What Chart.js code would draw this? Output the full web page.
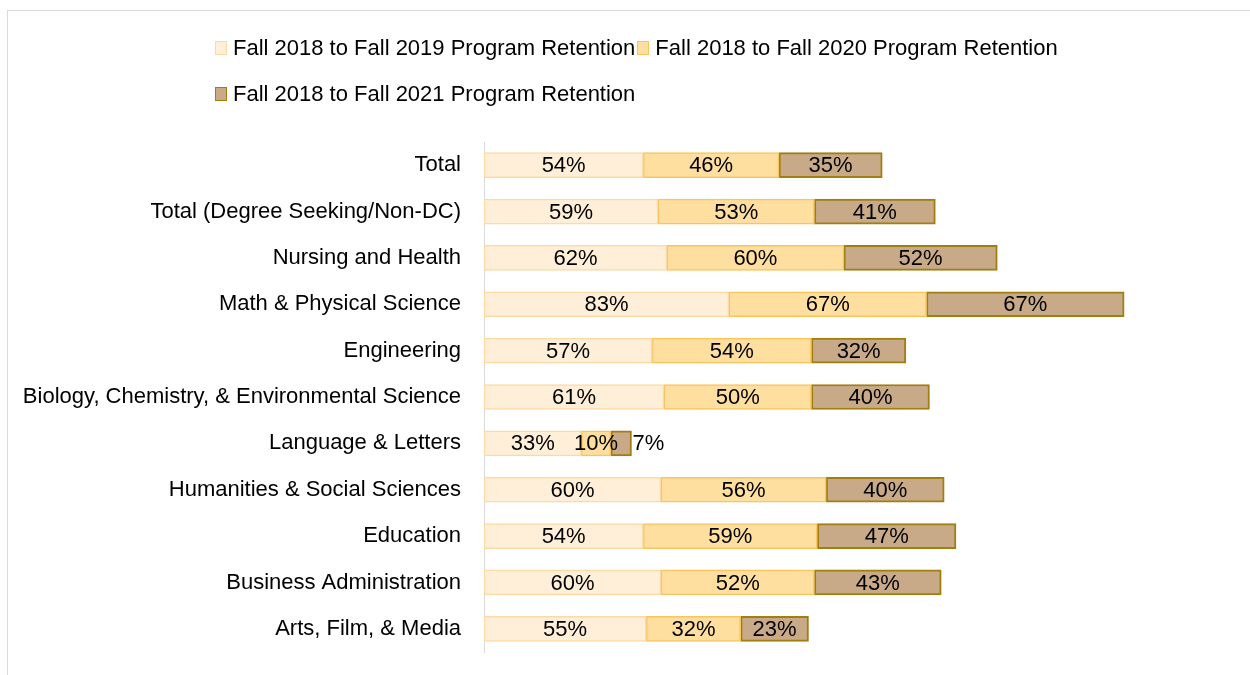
<!DOCTYPE html>
<html>
<head>
<meta charset="utf-8">
<script src="https://cdn.jsdelivr.net/npm/chart.js@4"></script>
<style>
  html, body { margin: 0; padding: 0; background: #fff; overflow: hidden; }
  #wrap { position: relative; width: 1250px; height: 675px; }
  #frame { position: absolute; left: 7px; top: 10px; width: 1300px; height: 700px; border: 1px solid #d9d9d9; box-sizing: border-box; }
  #legend { position: absolute; left: 215px; top: 25px; width: 860px; display: flex; flex-wrap: wrap;
            font-family: "Liberation Sans", Arial, sans-serif; font-size: 22px; color: #000; }
  .item { display: flex; align-items: center; height: 46px; margin-right: 2px; white-space: nowrap; }
  .box { width: 10px; height: 12px; margin-right: 6px; border: 1px solid; }
  canvas { position: absolute; left: 0; top: 0; }
</style>
</head>
<body>
<div id="wrap">
  <div id="frame"></div>
  <canvas id="result-chart" width="1250" height="675"></canvas>
  <div id="legend"></div>
</div>
<script>
const categories = [
    "Total",
    "Total (Degree Seeking/Non-DC)",
    "Nursing and Health",
    "Math & Physical Science",
    "Engineering",
    "Biology, Chemistry, & Environmental Science",
    "Language & Letters",
    "Humanities & Social Sciences",
    "Education",
    "Business Administration",
    "Arts, Film, & Media"
];
const seriesNames = [
    "Fall 2018 to Fall 2019 Program Retention",
    "Fall 2018 to Fall 2020 Program Retention",
    "Fall 2018 to Fall 2021 Program Retention"
];
const retention2019 = [54, 59, 62, 83, 57, 61, 33, 60, 54, 60, 55];
const retention2020 = [46, 53, 60, 67, 54, 50, 10, 56, 59, 52, 32];
const retention2021 = [35, 41, 52, 67, 32, 40, 7, 40, 47, 43, 23];

const fills = ["#FFEFD8", "#FFDFA0", "#C8AA88"];
const borders = ["#FCDAA6", "#F7C45E", "#A07E10"];
const FONT = "22px 'Liberation Sans', Arial, sans-serif";

const barLabels = {
    id: "barLabels",
    afterDatasetsDraw(chart) {
        const ctx = chart.ctx;
        ctx.save();
        ctx.font = FONT;
        ctx.fillStyle = "#000";
        ctx.textBaseline = "middle";
        const last = chart.data.datasets.length - 1;
        chart.data.datasets.forEach((ds, di) => {
            chart.getDatasetMeta(di).data.forEach((bar, i) => {
                const text = ds.data[i] + "%";
                const w = ctx.measureText(text).width;
                const barW = Math.abs(bar.x - bar.base);
                if (di === last && w > barW) {
                    ctx.textAlign = "left";
                    ctx.fillText(text, bar.x + 1, bar.y + 1);
                } else {
                    ctx.textAlign = "center";
                    ctx.fillText(text, (bar.x + bar.base) / 2, bar.y + 1);
                }
            });
        });
        ctx.restore();
    }
};

const ctx = document.getElementById("result-chart").getContext("2d");
const chart = new Chart(ctx, {
    type: "bar",
    data: {
        labels: categories,
        datasets: [retention2019, retention2020, retention2021].map((data, k) => ({
            label: seriesNames[k],
            data,
            backgroundColor: fills[k],
            borderColor: borders[k],
            borderWidth: k === 2 ? 2 : 1.5,
            borderSkipped: false,
            barThickness: 25
        }))
    },
    options: {
        indexAxis: "y",
        responsive: false,
        animation: false,
        layout: { padding: { left: 0, right: 28.5, top: 142, bottom: 23 } },
        scales: {
            x: { stacked: true, display: false, min: 0, max: 250 },
            y: {
                stacked: true,
                grid: { display: false, drawTicks: false },
                border: { display: true, color: "#d9d9d9", width: 1 },
                ticks: { color: "#000", padding: 23, font: { family: "'Liberation Sans', Arial, sans-serif", size: 22 } },
                afterFit(scale) {
                    scale.width = 484;
                    scale.paddingTop = 0;
                    scale.paddingBottom = 0;
                }
            }
        },
        plugins: {
            legend: { display: false },
            tooltip: { enabled: false }
        }
    },
    plugins: [barLabels]
});

const legend = document.getElementById("legend");
chart.data.datasets.forEach(ds => {
    const item = document.createElement("div");
    item.className = "item";
    const box = document.createElement("span");
    box.className = "box";
    box.style.background = ds.backgroundColor;
    box.style.borderColor = ds.borderColor;
    item.appendChild(box);
    item.appendChild(document.createTextNode(ds.label));
    legend.appendChild(item);
});
</script>
</body>
</html>
